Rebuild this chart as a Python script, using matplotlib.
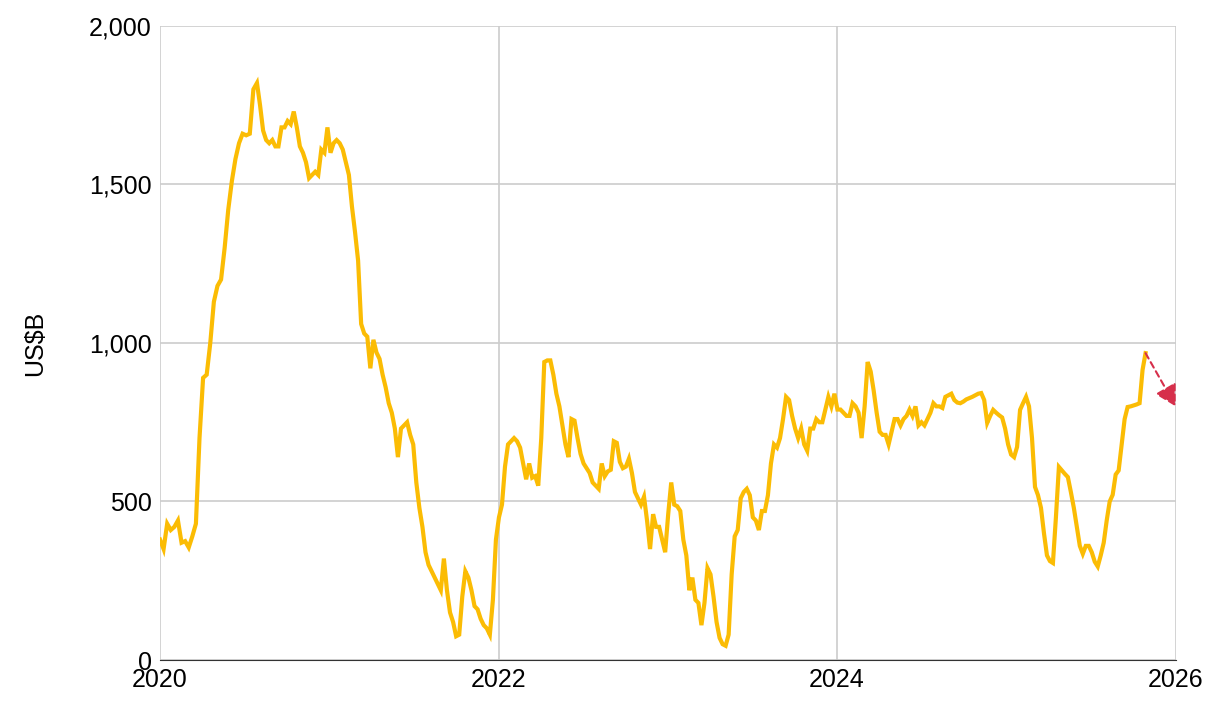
import matplotlib.pyplot as plt
import matplotlib.ticker as mticker
import numpy as np
import pandas as pd

plt.rcParams["font.family"] = ["Liberation Sans", "DejaVu Sans"]

# weekly values (US$B), Jan 2020 -> early Nov 2025
values = [
    380, 350, 430, 410, 420, 440, 370, 375, 355, 390, 430, 700, 890, 900, 1000,
    1130, 1180, 1200, 1300, 1420, 1510, 1580, 1630, 1660, 1655, 1660, 1800, 1820,
    1750, 1670, 1640, 1630, 1640, 1620, 1620, 1680, 1680, 1700, 1690, 1730, 1680,
    1620, 1600, 1570, 1520, 1530, 1540, 1530, 1610, 1600, 1680, 1600, 1630, 1640,
    1630, 1610, 1570, 1530, 1430, 1350, 1260, 1060, 1030, 1020, 920, 1010, 970,
    950, 900, 860, 810, 780, 730, 640, 730, 740, 750, 710, 680, 560, 480, 420,
    340, 300, 280, 260, 240, 220, 320, 220, 150, 120, 75, 80, 200, 280, 260, 220,
    170, 160, 130, 110, 100, 80, 190, 380, 450, 490, 610, 680, 690, 700, 690, 670,
    620, 570, 620, 575, 580, 550, 700, 940, 945, 945, 900, 840, 800, 740, 680, 640,
    760, 755, 700, 650, 620, 605, 590, 560, 550, 540, 620, 580, 595, 600, 690, 685,
    625, 605, 610, 635, 590, 530, 510, 490, 515, 440, 350, 460, 420, 420, 380, 340,
    460, 560, 490, 485, 470, 380, 330, 220, 260, 190, 180, 110, 180, 290, 270, 200,
    120, 70, 50, 45, 80, 270, 390, 410, 510, 530, 540, 520, 450, 440, 410, 470, 470,
    520, 620, 680, 670, 700, 760, 830, 820, 770, 730, 700, 730, 680, 660, 730, 730,
    760, 750, 750, 790, 830, 800, 840, 790, 790, 780, 770, 770, 810, 800, 780, 700,
    800, 940, 910, 850, 780, 720, 710, 710, 680, 720, 760, 760, 740, 760, 770, 790,
    770, 800, 740, 750, 740, 760, 780, 810, 800, 800, 795, 830, 835, 840, 820, 812,
    810, 815, 822, 826, 830, 835, 840, 842, 820, 748, 770, 789, 780, 772, 765, 730,
    680, 648, 640, 672, 789, 810, 830, 800, 700, 546, 520, 480, 400, 330, 312, 306,
    450, 609, 598, 587, 577, 530, 480, 420, 360, 335, 360, 360, 340, 310, 295, 330,
    370, 440, 500, 521, 585, 598, 680, 760, 798, 800, 803, 806, 810, 915, 968,
]
# known dates (decimal years) of a few points in the series, to place the rest
anchor_index = [0, 27, 104, 229, len(values) - 1]
anchor_year = [2020.0, 2020.573, 2021.967, 2024.199, 2025.823]
forecast_date = "2026-01-01"
forecast_value = 800

years = np.interp(np.arange(len(values)), anchor_index, anchor_year)
dates = pd.Timestamp("2020-01-01") + pd.to_timedelta((years - 2020) * 365.25, unit="D")

fig = plt.figure(figsize=(12.26, 7.2), dpi=100)
ax = fig.add_axes([0.1305, 0.0833, 0.8285, 0.8807])

ax.plot(dates, values, color="#fbbc04", linewidth=3, solid_joinstyle="miter")
ax.annotate("", xy=(pd.Timestamp(forecast_date), forecast_value),
            xytext=(dates[-1], values[-1]),
            arrowprops=dict(arrowstyle="-|>,head_length=0.8,head_width=0.45",
                            linestyle=(0, (3, 2)), color="#d62f4b", lw=1.5,
                            mutation_scale=16, shrinkA=0, shrinkB=0))

ax.set_xlim(pd.Timestamp("2020-01-01"), pd.Timestamp("2026-01-01"))
ax.set_ylim(0, 2000)
ax.set_xticks([pd.Timestamp(f"{y}-01-01") for y in (2020, 2022, 2024, 2026)])
ax.set_xticklabels(["2020", "2022", "2024", "2026"])
ax.set_yticks([0, 500, 1000, 1500, 2000])
ax.yaxis.set_major_formatter(mticker.FuncFormatter(lambda v, p: f"{int(v):,}"))
ax.tick_params(labelsize=18, length=0, pad=6)
ax.grid(True, color="#cccccc", linewidth=1.2)
ax.set_axisbelow(True)
for s in ("top", "left", "right"):
    ax.spines[s].set_visible(False)
ax.spines["bottom"].set_color("#333333")
ax.set_ylabel("US$B", fontsize=18, labelpad=30)

plt.savefig("out.png")
